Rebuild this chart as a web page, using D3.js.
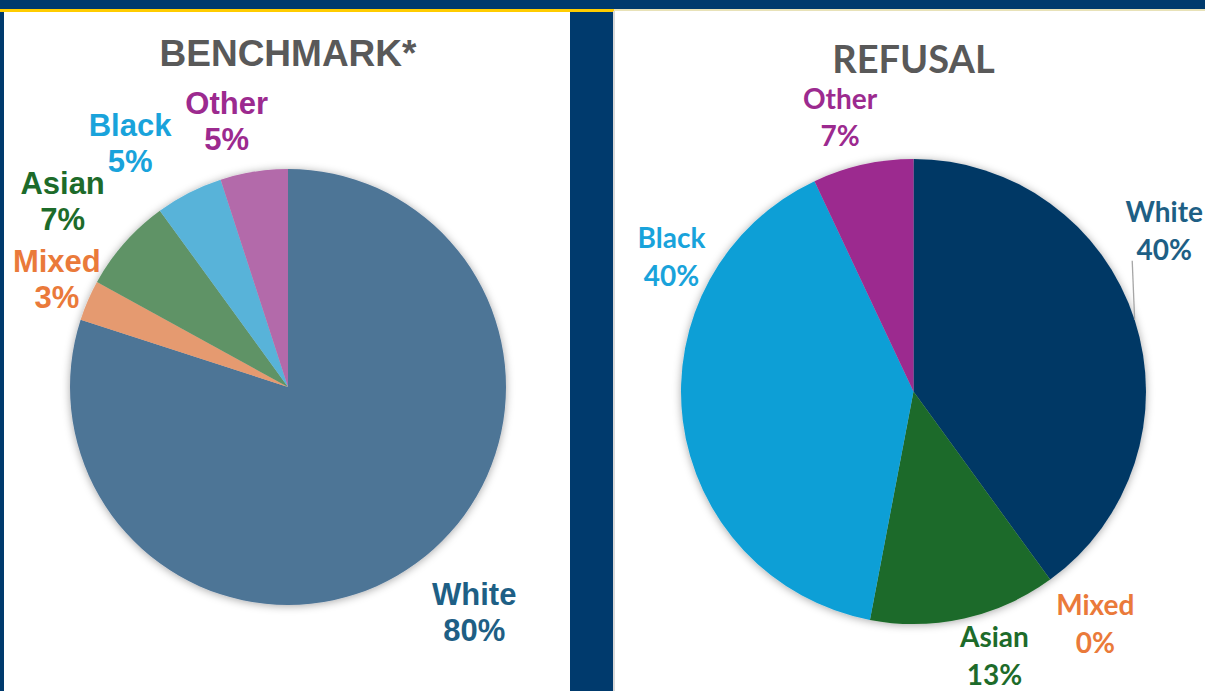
<!DOCTYPE html>
<html>
<head>
<meta charset="utf-8">
<script src="https://cdn.jsdelivr.net/npm/d3@7"></script>
<style>
  html, body { margin: 0; padding: 0; background: #003A6D; }
  svg { display: block; }
</style>
</head>
<body>
<svg id="chart" width="1205" height="691"></svg>
<script>
// Ethnicity shares (percent), clockwise from 12 o'clock
const categories = ["White", "Mixed", "Asian", "Black", "Other"];
const benchmarkValues = [80, 3, 7, 5, 5];
const refusalValues = [40, 0, 13, 40, 7];
const titles = ["BENCHMARK*", "REFUSAL"];

// Styling
const benchmarkColors = ["#4E7496", "#E59A6F", "#5E9366", "#59B3D9", "#B36AAA"];
const refusalColors = ["#003865", "#ED7D31", "#1D6B2A", "#119FD6", "#9C2A8F"];
const labelColors = ["#1E5F85", "#EA7A3A", "#1D6B2A", "#19A3DB", "#9C2A8F"];

// Label placement: [angle in degrees clockwise from top, radius as a multiple of pie radius]
const benchmarkLabelPos = [[140.4, 1.34], [295, 1.17], [309.5, 1.34], [327, 1.33], [347, 1.25]];
const refusalLabelPos = [[57.4, 1.28], [142, 1.27], [163, 1.19], [299, 1.19], [345, 1.22]];

const svg = d3.select("#chart");
const W = 1205, H = 691;

// Background frame
svg.append("rect").attr("width", W).attr("height", H).attr("fill", "#003A6D");
svg.append("rect").attr("x", 0).attr("y", 9).attr("width", 614).attr("height", 3).attr("fill", "#FFCC00");
svg.append("rect").attr("x", 614).attr("y", 9).attr("width", W - 614).attr("height", 2).attr("fill", "#E8E2B8");
svg.append("rect").attr("x", 4).attr("y", 12).attr("width", 566).attr("height", H - 12).attr("fill", "#FFFFFF");
svg.append("rect").attr("x", 613).attr("y", 11).attr("width", 2).attr("height", H - 11).attr("fill", "#D9D9D9");
svg.append("rect").attr("x", 615).attr("y", 11).attr("width", W - 615).attr("height", H - 11).attr("fill", "#FFFFFF");

const defs = svg.append("defs");
const filt = defs.append("filter").attr("id", "pieShadow")
  .attr("x", "-10%").attr("y", "-10%").attr("width", "120%").attr("height", "120%");
filt.append("feDropShadow").attr("dx", 0).attr("dy", 1).attr("stdDeviation", 4)
  .attr("flood-color", "#000").attr("flood-opacity", 0.35);

const pie = d3.pie().sort(null).value(d => d.value).startAngle(0).endAngle(2 * Math.PI);

function drawPie(cfg) {
  const g = svg.append("g").attr("transform", `translate(${cfg.cx},${cfg.cy})`);
  const data = categories.map((c, i) => ({ name: c, value: cfg.values[i], i }));
  const arcs = pie(data);
  const arc = d3.arc().innerRadius(0).outerRadius(cfg.r);

  g.append("g").attr("filter", "url(#pieShadow)")
    .selectAll("path").data(arcs.filter(a => a.data.value > 0)).join("path")
    .attr("d", arc)
    .attr("fill", d => cfg.colors[d.data.i]);

  // Title
  svg.append("text")
    .attr("x", cfg.cx).attr("y", cfg.titleY)
    .attr("text-anchor", "middle")
    .attr("font-family", cfg.titleFont)
    .attr("font-weight", "bold")
    .attr("font-size", cfg.titleSize)
    .attr("fill", "#595959")
    .text(cfg.title);

  // Leader lines
  if (cfg.leaders) {
    cfg.leaders.forEach(i => {
      const a = arcs[i];
      const mid = (a.startAngle + a.endAngle) / 2;
      const [x0, y0] = d3.pointRadial(mid, cfg.r);
      const [lx, ly] = d3.pointRadial(cfg.labelPos[i][0] * Math.PI / 180, cfg.r * cfg.labelPos[i][1]);
      g.append("line")
        .attr("x1", x0).attr("y1", y0)
        .attr("x2", lx - 32).attr("y2", ly - cfg.centerShift + cfg.lineGap + 1)
        .attr("stroke", "#A6A6A6").attr("stroke-width", 1.3);
    });
  }

  // Labels
  arcs.forEach((a, i) => {
    const [lx, ly] = d3.pointRadial(cfg.labelPos[i][0] * Math.PI / 180, cfg.r * cfg.labelPos[i][1]);
    const t = g.append("text")
      .attr("text-anchor", "middle")
      .attr("font-family", cfg.labelFont)
      .attr("font-weight", "bold")
      .attr("font-size", cfg.labelSize)
      .attr("fill", labelColors[i]);
    t.append("tspan").attr("x", lx).attr("y", ly - cfg.centerShift).text(a.data.name);
    t.append("tspan").attr("x", lx).attr("y", ly - cfg.centerShift + cfg.lineGap).text(a.data.value + "%");
  });
}

drawPie({
  cx: 288, cy: 387, r: 218,
  values: benchmarkValues, colors: benchmarkColors, labelPos: benchmarkLabelPos,
  title: titles[0], titleY: 66, titleFont: "Liberation Sans, Arial, sans-serif", titleSize: 37,
  labelFont: "Liberation Sans, Arial, sans-serif", labelSize: 31, lineGap: 36, centerShift: 7.5
});

drawPie({
  cx: 913.5, cy: 391.5, r: 232.5,
  values: refusalValues, colors: refusalColors, labelPos: refusalLabelPos,
  title: titles[1], titleY: 73, titleFont: "Lato, sans-serif", titleSize: 38,
  labelFont: "Lato, sans-serif", labelSize: 28, lineGap: 37.5, centerShift: 9,
  leaders: [0]
});
</script>
</body>
</html>
